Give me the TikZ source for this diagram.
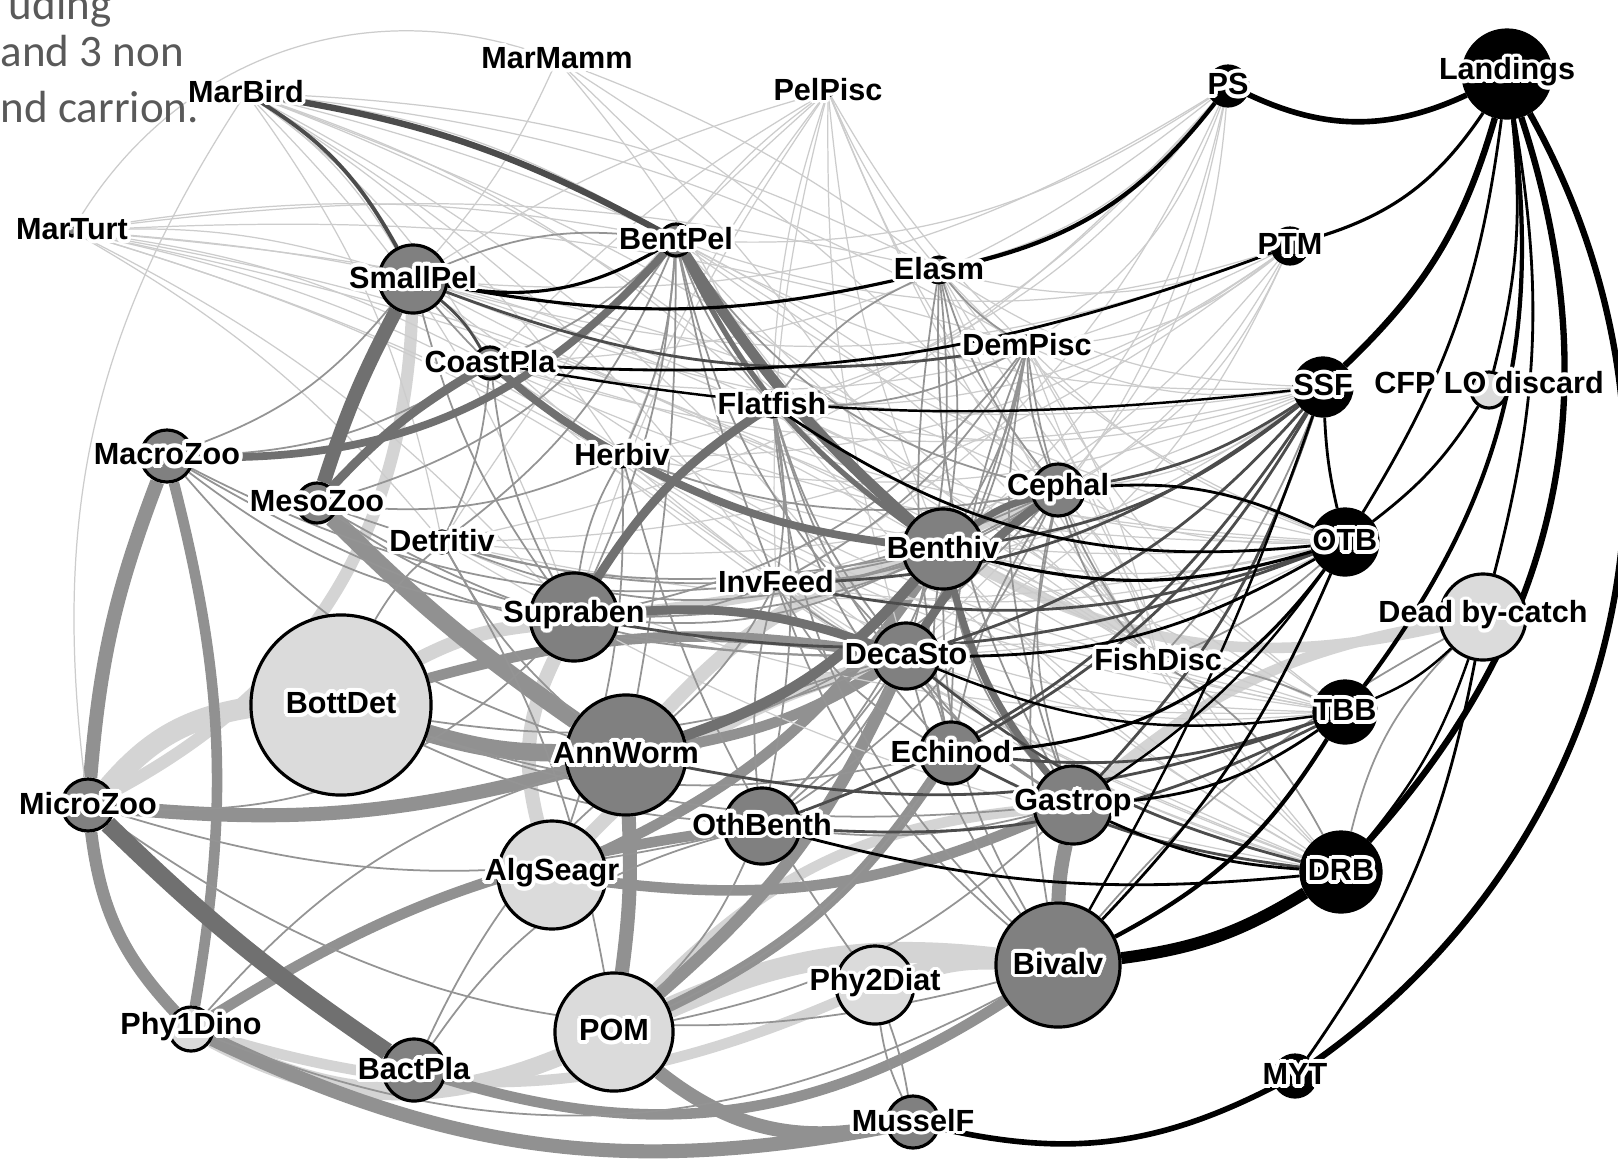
\documentclass[tikz,border=0pt]{standalone}
\usepackage{fontspec}
\setsansfont{Liberation Sans}
\newfontfamily\capfont{Carlito}
\usepackage{contour}
\contourlength{1.1pt}
\contournumber{16}

\definecolor{fleetc}{gray}{0.0}
\definecolor{consc}{gray}{0.50}
\definecolor{basec}{gray}{0.86}
\definecolor{webfaint}{gray}{0.80}
\definecolor{webthin}{gray}{0.58}
\definecolor{webdark}{gray}{0.30}
\definecolor{flowdark}{gray}{0.44}
\definecolor{flowmid}{gray}{0.57}
\definecolor{flowlight}{gray}{0.83}
\definecolor{captc}{gray}{0.35}

\pgfdeclarelayer{back}
\pgfdeclarelayer{web}
\pgfsetlayers{back,web,main}

% white halo round the group names
\newcommand{\nm}[1]{\contour{white}{#1}}

\tikzset{
  grp/.style={circle, draw=black, line width=0.9pt, inner sep=0pt, minimum size=#1*0.02cm},
  fleet/.style={grp=#1, fill=fleetc},
  cons/.style={grp=#1, fill=consc},
  base/.style={grp=#1, fill=basec},
  tag/.style={font=\sffamily\bfseries\fontsize{8.7}{10}\selectfont, inner sep=0pt},
  capt/.style={font=\capfont\fontsize{12.8}{15}\selectfont, text=captc, inner sep=0pt},
  faint/.style={draw=webfaint, line width=0.35pt},
  thinl/.style={draw=webthin, line width=0.5pt},
  darkl/.style={draw=webdark, line width=#1pt},
  darkl/.default=0.8,
  fl/.style={draw=black, line width=#1pt},
  fl/.default=0.8,
  flowA/.style={draw=flowmid, line width=#1pt},
  flowB/.style={draw=flowlight, line width=#1pt},
  flowC/.style={draw=flowdark, line width=#1pt},
}

\begin{document}
\begin{tikzpicture}[x=0.01cm, y=-0.01cm]
  \useasboundingbox (0,0) rectangle (1618,1160);
  \begin{pgfonlayer}{back}
    \fill[white] (0,0) rectangle (1618,1160);
  \end{pgfonlayer}

  % caption remains, cut at the left border
  \node[capt, anchor=base east] (capA) at (112,19) {uding};
  \node[capt, anchor=base west] (capB) at (0,66) {and 3 non};
  \node[capt, anchor=base west] (capC) at (0,122) {nd carrion.};

  % top predators
  \node[cons=5, label={[tag]center:\nm{MarBird}}] (MarBird) at (246,93) {};
  \node[cons=5, label={[tag]center:\nm{MarMamm}}] (MarMamm) at (557,60) {};
  \node[cons=5, label={[tag]center:\nm{PelPisc}}] (PelPisc) at (828,91) {};
  \node[cons=5, label={[tag]center:\nm{MarTurt}}] (MarTurt) at (72,231) {};

  % fish and invertebrates
  \node[cons=34, label={[tag]center:\nm{SmallPel}}] (SmallPel) at (413,279) {};
  \node[cons=16, label={[tag]center:\nm{BentPel}}] (BentPel) at (676,240) {};
  \node[cons=13, label={[tag]center:\nm{Elasm}}] (Elasm) at (939,270) {};
  \node[cons=10, label={[tag]center:\nm{DemPisc}}] (DemPisc) at (1027,346) {};
  \node[cons=16, label={[tag]center:\nm{CoastPla}}] (CoastPla) at (490,363) {};
  \node[cons=12, label={[tag]center:\nm{Flatfish}}] (Flatfish) at (772,405) {};
  \node[cons=26, label={[tag]center:\nm{MacroZoo}}] (MacroZoo) at (167,456) {};
  \node[cons=11, label={[tag]center:\nm{Herbiv}}] (Herbiv) at (622,456) {};
  \node[cons=20, label={[tag]center:\nm{MesoZoo}}] (MesoZoo) at (317,503) {};
  \node[cons=26, label={[tag]center:\nm{Cephal}}] (Cephal) at (1058,490) {};
  \node[cons=11, label={[tag]center:\nm{Detritiv}}] (Detritiv) at (442,542) {};
  \node[cons=40, label={[tag]center:\nm{Benthiv}}] (Benthiv) at (943,549) {};
  \node[cons=6, label={[tag]center:\nm{InvFeed}}] (InvFeed) at (776,583) {};
  \node[cons=44, label={[tag]center:\nm{Supraben}}] (Supraben) at (574,617) {};
  \node[cons=33, label={[tag]center:\nm{DecaSto}}] (DecaSto) at (906,656) {};
  \node[cons=5, label={[tag]center:\nm{FishDisc}}] (FishDisc) at (1158,661) {};
  \node[cons=60, label={[tag]center:\nm{AnnWorm}}] (AnnWorm) at (626,755) {};
  \node[cons=31, label={[tag]center:\nm{Echinod}}] (Echinod) at (951,753) {};
  \node[cons=26, label={[tag]center:\nm{MicroZoo}}] (MicroZoo) at (88,805) {};
  \node[cons=39, label={[tag]center:\nm{Gastrop}}] (Gastrop) at (1073,805) {};
  \node[cons=38, label={[tag]center:\nm{OthBenth}}] (OthBenth) at (762,826) {};
  \node[cons=62, label={[tag]center:\nm{Bivalv}}] (Bivalv) at (1058,965) {};
  \node[cons=31, label={[tag]center:\nm{BactPla}}] (BactPla) at (414,1070) {};
  \node[cons=26, label={[tag]center:\nm{MusselF}}] (MusselF) at (913,1122) {};

  % detritus and producers
  \node[base=90, label={[tag]center:\nm{BottDet}}] (BottDet) at (341,705) {};
  \node[base=54, label={[tag]center:\nm{AlgSeagr}}] (AlgSeagr) at (552,875) {};
  \node[base=39, label={[tag]center:\nm{Phy2Diat}}] (Phy2Diat) at (875,985) {};
  \node[base=22, label={[tag]center:\nm{Phy1Dino}}] (Phy1Dino) at (191,1029) {};
  \node[base=59, label={[tag]center:\nm{POM}}] (POM) at (614,1032) {};
  \node[base=43, label={[tag]center:\nm{Dead by-catch}}] (DeadBy) at (1483,617) {};
  \node[base=18, label={[tag, yshift=0.06cm]center:\nm{CFP LO discard}}] (CFPdisc) at (1489,390) {};

  % fleets
  \node[fleet=20, label={[tag]center:\nm{PS}}] (PS) at (1228,86) {};
  \node[fleet=44, label={[tag]center:\nm{Landings}}] (Landings) at (1507,74) {};
  \node[fleet=18, label={[tag]center:\nm{PTM}}] (PTM) at (1290,246) {};
  \node[fleet=29, label={[tag]center:\nm{SSF}}] (SSF) at (1323,387) {};
  \node[fleet=33, label={[tag]center:\nm{OTB}}] (OTB) at (1345,542) {};
  \node[fleet=31, label={[tag]center:\nm{TBB}}] (TBB) at (1345,712) {};
  \node[fleet=40, label={[tag]center:\nm{DRB}}] (DRB) at (1341,872) {};
  \node[fleet=21, label={[tag]center:\nm{MYT}}] (MYT) at (1295,1076) {};

  \begin{pgfonlayer}{web}
  % wide light flows
  \foreach \a/\b/\c/\w in {MicroZoo/BottDet/20/6, Phy1Dino/POM/-25/5, POM/Bivalv/15/6,
      SmallPel/MicroZoo/30/3.5, Phy2Diat/Bivalv/10/5, DeadBy/Benthiv/20/3,
      DeadBy/Gastrop/-15/3, Supraben/AlgSeagr/-20/4, BottDet/Supraben/10/4,
      Phy1Dino/Phy2Diat/-20/3, AlgSeagr/DecaSto/15/4, POM/Gastrop/20/3,
      Supraben/Cephal/-10/3, AnnWorm/Benthiv/15/4}
    \draw[flowB=\w] (\a) to[bend left=\c] (\b);

  % wide mid-grey flows
  \foreach \a/\b/\c/\w in {MacroZoo/MicroZoo/-8/4, MacroZoo/Phy1Dino/12/3, MicroZoo/Phy1Dino/-18/3.5,
      MicroZoo/AnnWorm/-10/4, Phy1Dino/MusselF/-18/4, POM/MusselF/-25/4,
      Phy1Dino/OthBenth/12/3, BottDet/AnnWorm/-8/5, MesoZoo/AnnWorm/-5/5,
      POM/AnnWorm/-5/4, POM/DecaSto/-12/3.5, AlgSeagr/Benthiv/-15/3,
      Bivalv/Gastrop/5/4, BottDet/DecaSto/12/3, AnnWorm/DecaSto/-10/3,
      BactPla/Bivalv/-25/3, AlgSeagr/Gastrop/-15/3, POM/Echinod/-15/3}
    \draw[flowA=\w] (\a) to[bend left=\c] (\b);

  % faint web from the top predators
  \foreach \s/\g in {MarBird/12, PelPisc/-8, MarTurt/10}
    \foreach \t in {SmallPel,BentPel,CoastPla,Flatfish,Elasm,DemPisc,Cephal,Benthiv,
        Herbiv,Detritiv,InvFeed,FishDisc,DecaSto,Supraben}
      \draw[faint] (\s) to[bend left=\g] (\t);
  \foreach \t in {SmallPel,Elasm,Cephal,Benthiv,Flatfish}
    \draw[faint] (MarMamm) to[bend left=8] (\t);

  % faint web from the fleets
  \foreach \s/\g in {PS/18, PTM/18, SSF/15, OTB/12, TBB/12, DRB/10}
    \foreach \t in {BentPel,CoastPla,Flatfish,DemPisc,Cephal,Herbiv,Benthiv,
        InvFeed,Detritiv,DecaSto,Elasm,SmallPel}
      \draw[faint] (\s) to[bend left=\g] (\t);
  \foreach \t in {Elasm,DemPisc,Cephal,Benthiv,Flatfish,BentPel,DecaSto,SmallPel,CoastPla}
    \draw[faint] (FishDisc) to[bend right=10] (\t);
  \draw[faint] (MarMamm) to[bend right=40] (MarTurt);
  \draw[faint] (MarBird) to[bend right=20] (MicroZoo);

  % grey predator-prey links
  \foreach \a/\b/\c in {BentPel/SmallPel/-15, BentPel/CoastPla/10, BentPel/Flatfish/-10,
      BentPel/Herbiv/10, BentPel/Detritiv/15, BentPel/MesoZoo/20, BentPel/InvFeed/-5,
      BentPel/DecaSto/-15, BentPel/Cephal/-20, BentPel/Supraben/10, BentPel/AnnWorm/5,
      Elasm/Flatfish/-15, Elasm/Cephal/-10, Elasm/Benthiv/10, Elasm/DecaSto/10,
      Elasm/DemPisc/-10, Elasm/Gastrop/-15, Elasm/Echinod/-10,
      DemPisc/Flatfish/15, DemPisc/Cephal/-10, DemPisc/Benthiv/10, DemPisc/DecaSto/10,
      DemPisc/Echinod/-10, DemPisc/Gastrop/-15, DemPisc/InvFeed/15, DemPisc/FishDisc/-15,
      DemPisc/OthBenth/15, DemPisc/Supraben/20,
      Cephal/Herbiv/15, Cephal/Detritiv/20, Cephal/Supraben/15, Cephal/InvFeed/15,
      Cephal/Echinod/-10, Cephal/Gastrop/-15, Cephal/OthBenth/15, Cephal/AnnWorm/15,
      Cephal/FishDisc/-15, Cephal/Bivalv/-10,
      Flatfish/InvFeed/10, Flatfish/OthBenth/10, Flatfish/Echinod/-15, Flatfish/Gastrop/-20,
      Flatfish/DecaSto/-10, Flatfish/Bivalv/-20,
      Herbiv/AlgSeagr/10, Herbiv/Supraben/-10, Herbiv/MesoZoo/15, Herbiv/Phy2Diat/-10,
      Detritiv/BottDet/-10, Detritiv/POM/10, Detritiv/AnnWorm/-10,
      InvFeed/AnnWorm/10, InvFeed/Supraben/10, InvFeed/DecaSto/-10, InvFeed/OthBenth/-10,
      InvFeed/Echinod/-15, InvFeed/Bivalv/-15,
      Benthiv/Supraben/15, Benthiv/AnnWorm/15, Benthiv/OthBenth/10, Benthiv/Echinod/-10,
      Benthiv/Gastrop/-15, Benthiv/Bivalv/-15, Benthiv/Detritiv/20, Benthiv/InvFeed/10,
      CoastPla/MacroZoo/15, CoastPla/Supraben/-10, CoastPla/Detritiv/10,
      SmallPel/MacroZoo/15, SmallPel/Herbiv/-10, SmallPel/Supraben/-10,
      MacroZoo/Supraben/-15, MacroZoo/DecaSto/-15, MacroZoo/Benthiv/-20, MacroZoo/AnnWorm/-15,
      MesoZoo/Supraben/-10, MesoZoo/Benthiv/-15, MesoZoo/DecaSto/-15,
      MicroZoo/Supraben/-25, MicroZoo/OthBenth/-15, MicroZoo/Bivalv/-25,
      DecaSto/Echinod/10, DecaSto/Gastrop/-10, DecaSto/Bivalv/-10, DecaSto/OthBenth/10,
      DecaSto/BottDet/15, Gastrop/OthBenth/10, Gastrop/POM/15, Gastrop/BottDet/12,
      Echinod/POM/15, Echinod/BottDet/15, OthBenth/POM/10, OthBenth/BottDet/10,
      Phy1Dino/Bivalv/-25, Phy1Dino/AnnWorm/15, BactPla/OthBenth/20, BactPla/DecaSto/25,
      Phy2Diat/MusselF/5, Phy2Diat/MusselF/-8, FishDisc/OTB/-10, FishDisc/TBB/10,
      FishDisc/DRB/15, FishDisc/SSF/-10, DeadBy/DRB/-15, DeadBy/Bivalv/-10}
    \draw[thinl] (\a) to[bend left=\c] (\b);

  % dark flows
  \foreach \a/\b/\c/\w in {BentPel/Benthiv/-8/3, BentPel/Benthiv/-14/1.5, SmallPel/MesoZoo/-5/4,
      CoastPla/MesoZoo/-8/2.5, BentPel/MacroZoo/25/2.2, Flatfish/Supraben/-12/2.5,
      Herbiv/Benthiv/-10/2.2, CoastPla/Herbiv/-5/2.2, MicroZoo/BactPla/-5/5,
      Cephal/DecaSto/-10/2.5, Cephal/Benthiv/-10/2, AnnWorm/Benthiv/-15/3,
      Benthiv/Gastrop/-12/2, Supraben/DecaSto/12/2.5}
    \draw[flowC=\w] (\a) to[bend left=\c] (\b);

  % dark links
  \foreach \a/\b/\c/\w in {MarBird/BentPel/10/1.8, MarBird/SmallPel/15/1.1,
      SSF/Benthiv/15/0.8, SSF/Cephal/12/0.8, SSF/DecaSto/15/0.8, SSF/Echinod/15/0.8,
      SSF/Gastrop/12/0.8, SSF/InvFeed/18/0.8, SSF/OthBenth/18/0.8, TBB/Echinod/12/0.8,
      TBB/OthBenth/15/0.8, TBB/AnnWorm/15/0.8, DRB/Echinod/10/0.8, DRB/DecaSto/12/0.8,
      OTB/InvFeed/15/0.8, OTB/Supraben/15/0.8, SmallPel/CoastPla/10/0.8,
      SmallPel/DemPisc/-15/0.8}
    \draw[darkl=\w] (\a) to[bend left=\c] (\b);

  % catches and landings
  \foreach \a/\b/\c/\w in {PS/Landings/-25/1.6, Elasm/PS/-20/1.2, SmallPel/Elasm/-12/0.9,
      SmallPel/BentPel/-20/0.9, PTM/Landings/-20/0.9, CoastPla/PTM/-12/0.8,
      CoastPla/SSF/-8/0.7, SSF/Landings/-15/1.8, Landings/CFPdisc/10/0.8,
      Landings/OTB/12/0.8, Landings/TBB/22/1.2, Landings/DRB/30/1.8,
      Landings/MYT/42/1.8, Landings/DeadBy/12/0.8, CFPdisc/OTB/10/0.8,
      OTB/SSF/5/0.8, TBB/DeadBy/-10/0.7, DRB/DeadBy/-10/0.7, MYT/DeadBy/-12/0.8,
      MusselF/MYT/-20/1.6, Bivalv/DRB/-12/3.4, Bivalv/TBB/-15/1.2, Bivalv/OTB/-10/0.8,
      Bivalv/SSF/-5/0.7, Gastrop/TBB/-15/0.8, Gastrop/DRB/-10/0.8, Gastrop/OTB/-10/0.7,
      Echinod/OTB/-25/0.9, OthBenth/DRB/-10/0.8, Benthiv/OTB/-15/0.9, Cephal/OTB/15/0.8,
      DecaSto/OTB/-15/0.8, DecaSto/TBB/-15/0.7, Flatfish/OTB/-20/0.8}
    \draw[fl=\w] (\a) to[bend left=\c] (\b);
  \end{pgfonlayer}
\end{tikzpicture}
\end{document}
